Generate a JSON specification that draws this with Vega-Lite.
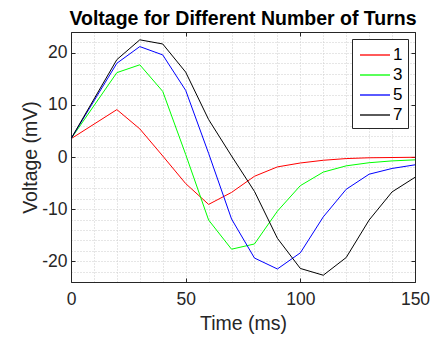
{
  "$schema": "https://vega.github.io/schema/vega-lite/v6.json",
  "width": 344,
  "height": 250,
  "autosize": {"type": "none"},
  "padding": {"left": 71, "top": 32, "right": 18, "bottom": 57},
  "background": "white",
  "title": {"text": "Voltage for Different Number of Turns", "font": "Liberation Sans", "fontSize": 19.5, "fontWeight": "bold", "color": "#000000", "anchor": "middle", "baseline": "bottom", "offset": 3, "dy": 28},
  "config": {"view": {"stroke": "#262626", "strokeWidth": 1}, "font": "Liberation Sans"},
  "data": {"values": [
    {"t": 0, "v": 3.5, "turns": "1"}, {"t": 20, "v": 9.1, "turns": "1"}, {"t": 30, "v": 5.4, "turns": "1"}, {"t": 40, "v": 0.2, "turns": "1"}, {"t": 50, "v": -5.1, "turns": "1"}, {"t": 60, "v": -9.1, "turns": "1"}, {"t": 70, "v": -6.8, "turns": "1"}, {"t": 80, "v": -3.7, "turns": "1"}, {"t": 90, "v": -1.9, "turns": "1"}, {"t": 100, "v": -1.15, "turns": "1"}, {"t": 110, "v": -0.63, "turns": "1"}, {"t": 120, "v": -0.3, "turns": "1"}, {"t": 130, "v": -0.15, "turns": "1"}, {"t": 140, "v": -0.1, "turns": "1"}, {"t": 150, "v": -0.05, "turns": "1"},
    {"t": 0, "v": 3.5, "turns": "3"}, {"t": 20, "v": 16.2, "turns": "3"}, {"t": 30, "v": 17.7, "turns": "3"}, {"t": 40, "v": 12.6, "turns": "3"}, {"t": 50, "v": 0.5, "turns": "3"}, {"t": 60, "v": -12.1, "turns": "3"}, {"t": 70, "v": -17.7, "turns": "3"}, {"t": 80, "v": -16.7, "turns": "3"}, {"t": 90, "v": -10.4, "turns": "3"}, {"t": 100, "v": -5.5, "turns": "3"}, {"t": 110, "v": -2.9, "turns": "3"}, {"t": 120, "v": -1.7, "turns": "3"}, {"t": 130, "v": -1.1, "turns": "3"}, {"t": 140, "v": -0.75, "turns": "3"}, {"t": 150, "v": -0.55, "turns": "3"},
    {"t": 0, "v": 3.5, "turns": "5"}, {"t": 20, "v": 18.0, "turns": "5"}, {"t": 30, "v": 21.2, "turns": "5"}, {"t": 40, "v": 19.6, "turns": "5"}, {"t": 50, "v": 12.8, "turns": "5"}, {"t": 60, "v": 0.7, "turns": "5"}, {"t": 70, "v": -11.9, "turns": "5"}, {"t": 80, "v": -19.4, "turns": "5"}, {"t": 90, "v": -21.5, "turns": "5"}, {"t": 100, "v": -18.4, "turns": "5"}, {"t": 110, "v": -11.5, "turns": "5"}, {"t": 120, "v": -6.2, "turns": "5"}, {"t": 130, "v": -3.3, "turns": "5"}, {"t": 140, "v": -2.2, "turns": "5"}, {"t": 150, "v": -1.5, "turns": "5"},
    {"t": 0, "v": 3.5, "turns": "7"}, {"t": 20, "v": 18.7, "turns": "7"}, {"t": 30, "v": 22.5, "turns": "7"}, {"t": 40, "v": 21.7, "turns": "7"}, {"t": 50, "v": 16.3, "turns": "7"}, {"t": 60, "v": 7.2, "turns": "7"}, {"t": 70, "v": 0.2, "turns": "7"}, {"t": 80, "v": -6.6, "turns": "7"}, {"t": 90, "v": -15.6, "turns": "7"}, {"t": 100, "v": -21.4, "turns": "7"}, {"t": 110, "v": -22.7, "turns": "7"}, {"t": 120, "v": -19.3, "turns": "7"}, {"t": 130, "v": -12.1, "turns": "7"}, {"t": 140, "v": -6.7, "turns": "7"}, {"t": 150, "v": -3.9, "turns": "7"}
  ]},
  "resolve": {"axis": {"x": "independent", "y": "independent"}},
  "layer": [
    {
      "mark": {"type": "line", "strokeWidth": 1, "clip": true},
      "encoding": {
        "x": {"field": "t", "type": "quantitative", "scale": {"domain": [0, 150], "nice": false, "zero": false},
          "axis": {"orient": "bottom", "title": "Time (ms)", "values": [0,10,20,30,40,50,60,70,80,90,100,110,120,130,140,150],
            "labelExpr": "datum.value % 50 === 0 ? '' + datum.value : ''", "labelOverlap": false, "labelFlush": false,
            "labelFont": "Liberation Sans", "labelFontSize": 17.5, "labelColor": "#262626", "labelPadding": 12,
            "titleFont": "Liberation Sans", "titleFontSize": 19.5, "titleFontWeight": "normal", "titleColor": "#262626", "titlePadding": 7,
            "grid": true, "gridColor": "#cccccc", "gridDash": [1, 2], "gridWidth": 1,
            "domainColor": "#262626", "tickColor": "#262626", "tickSize": -4,
            "tickOpacity": {"condition": {"test": "datum.value % 50 === 0", "value": 1}, "value": 0}}},
        "y": {"field": "v", "type": "quantitative", "scale": {"domain": [-24, 24], "nice": false, "zero": false},
          "axis": {"orient": "left", "title": "Voltage (mV)", "values": [-24,-22,-20,-18,-16,-14,-12,-10,-8,-6,-4,-2,0,2,4,6,8,10,12,14,16,18,20,22,24],
            "labelExpr": "datum.value % 10 === 0 ? '' + datum.value : ''", "labelOverlap": false, "labelFlush": false,
            "labelFont": "Liberation Sans", "labelFontSize": 17.5, "labelColor": "#262626", "labelPadding": 8,
            "titleFont": "Liberation Sans", "titleFontSize": 19.5, "titleFontWeight": "normal", "titleColor": "#262626", "titlePadding": 1,
            "grid": true, "gridColor": "#cccccc", "gridDash": [1, 2], "gridWidth": 1,
            "domainColor": "#262626", "tickColor": "#262626", "tickSize": -4,
            "tickOpacity": {"condition": {"test": "datum.value % 10 === 0", "value": 1}, "value": 0}}},
        "color": {"field": "turns", "type": "nominal",
          "scale": {"domain": ["1", "3", "5", "7"], "range": ["#ff0000", "#00ff00", "#0000ff", "#000000"]},
          "legend": {"title": null, "orient": "top-right", "offset": 7, "symbolType": "M-0.8,0H2.2", "symbolSize": 400, "symbolStrokeWidth": 1.3,
            "symbolFillColor": "transparent",
            "labelFont": "Liberation Sans", "labelFontSize": 17, "labelColor": "#000000", "rowPadding": 1, "padding": 5,
            "strokeColor": "#262626", "fillColor": "white", "labelOffset": 14}}
      }
    },
    {
      "mark": {"type": "line", "strokeOpacity": 0},
      "encoding": {
        "x": {"field": "t", "type": "quantitative",
          "axis": {"orient": "top", "title": null, "values": [0, 50, 100, 150], "labels": false, "grid": false,
            "domainColor": "#262626", "tickColor": "#262626", "tickSize": -4}},
        "y": {"field": "v", "type": "quantitative",
          "axis": {"orient": "right", "title": null, "values": [-20, -10, 0, 10, 20], "labels": false, "grid": false,
            "domainColor": "#262626", "tickColor": "#262626", "tickSize": -4}},
        "detail": {"field": "turns"}
      }
    }
  ]
}
